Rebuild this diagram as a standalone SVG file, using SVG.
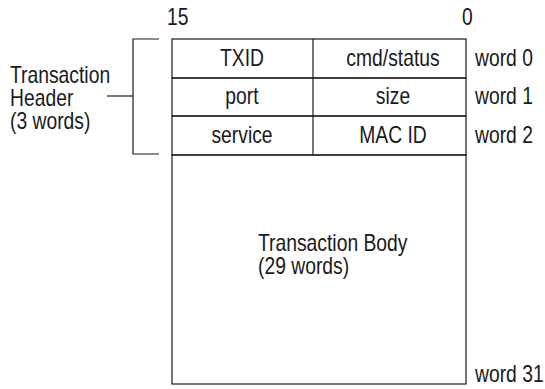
<svg xmlns="http://www.w3.org/2000/svg" width="545" height="389" viewBox="0 0 545 389">
<style>
text{font-family:"Liberation Sans",Arial,sans-serif;font-size:23px;fill:#1a1a1a}
.c{text-anchor:middle}
.ln{stroke:#1a1a1a;stroke-width:1.2;fill:none}
</style>
<rect width="545" height="389" fill="#fff"/>
<g id="bits">
<text transform="translate(167 25) scale(.84 1)">15</text>
<text transform="translate(462 25) scale(.84 1)">0</text>
</g>
<g id="word0">
<rect class="ln" x="172" y="39" width="294" height="39"/>
<line class="ln" x1="313" y1="39" x2="313" y2="78"/>
<text class="c" transform="translate(242 66) scale(.84 1)">TXID</text>
<text class="c" transform="translate(393 66) scale(.84 1)">cmd/status</text>
<text transform="translate(475 66) scale(.84 1)">word 0</text>
</g>
<g id="word1">
<rect class="ln" x="172" y="78" width="294" height="38"/>
<line class="ln" x1="313" y1="78" x2="313" y2="116"/>
<text class="c" transform="translate(242 104) scale(.84 1)">port</text>
<text class="c" transform="translate(393 104) scale(.84 1)">size</text>
<text transform="translate(475 104) scale(.84 1)">word 1</text>
</g>
<g id="word2">
<rect class="ln" x="172" y="116" width="294" height="39"/>
<line class="ln" x1="313" y1="116" x2="313" y2="155"/>
<text class="c" transform="translate(242 143) scale(.84 1)">service</text>
<text class="c" transform="translate(393 143) scale(.84 1)">MAC ID</text>
<text transform="translate(475 143) scale(.84 1)">word 2</text>
</g>
<g id="body">
<rect class="ln" x="172" y="155" width="294" height="229"/>
<text transform="translate(258 251) scale(.84 1)">Transaction Body</text>
<text transform="translate(258 274) scale(.84 1)">(29 words)</text>
<text transform="translate(475 382) scale(.84 1)">word 31</text>
</g>
<g id="header-label">
<text transform="translate(10 83) scale(.84 1)">Transaction</text>
<text transform="translate(10 106) scale(.84 1)">Header</text>
<text transform="translate(10 129) scale(.84 1)">(3 words)</text>
</g>
<g id="connectors">
<path class="ln" d="M159 39H133V154H159"/>
<line class="ln" x1="107" y1="96" x2="133" y2="96"/>
</g>
</svg>
